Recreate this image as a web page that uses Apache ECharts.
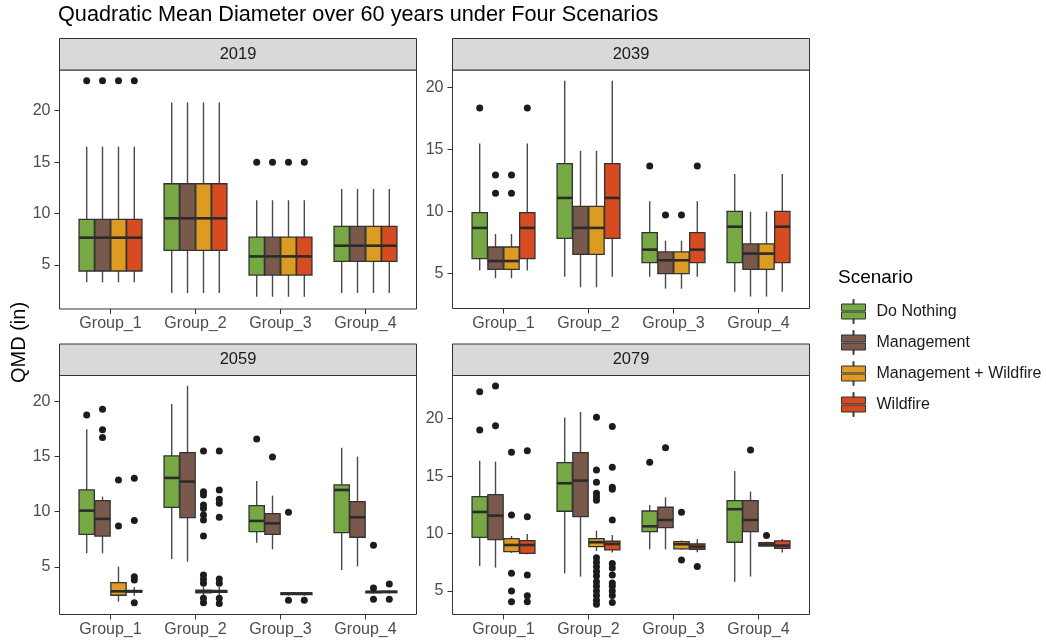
<!DOCTYPE html>
<html><head><meta charset="utf-8">
<script src="https://cdn.jsdelivr.net/npm/echarts@6/dist/echarts.min.js"></script>
<style>html,body{margin:0;padding:0;background:#fff}#chart{width:1046px;height:643px}</style>
</head><body><div id="chart"></div>
<script>
const years = ['2019', '2039', '2059', '2079'];
const groups = ['Group_1', 'Group_2', 'Group_3', 'Group_4'];
const scenarios = ['Do Nothing', 'Management', 'Management + Wildfire', 'Wildfire'];
const yTicks = [5, 10, 15, 20];
const xTicks = [1, 2, 3, 4];

// box stats per group: [lower whisker, Q1, median, Q3, upper whisker]
const box2019DoNothing = [[3.32, 4.42, 7.66, 9.44, 16.5], [2.28, 6.43, 9.54, 12.9, 20.8], [1.92, 4.03, 5.84, 7.72, 11.3], [2.28, 5.36, 6.88, 8.76, 12.39]];
const box2019Management = [[3.32, 4.42, 7.66, 9.44, 16.5], [2.28, 6.43, 9.54, 12.9, 20.8], [1.92, 4.03, 5.84, 7.72, 11.3], [2.28, 5.36, 6.88, 8.76, 12.39]];
const box2019MgmtWildfire = [[3.32, 4.42, 7.66, 9.44, 16.5], [2.28, 6.43, 9.54, 12.9, 20.8], [1.92, 4.03, 5.84, 7.72, 11.3], [2.28, 5.36, 6.88, 8.76, 12.39]];
const box2019Wildfire = [[3.32, 4.42, 7.66, 9.44, 16.5], [2.28, 6.43, 9.54, 12.9, 20.8], [1.92, 4.03, 5.84, 7.72, 11.3], [2.28, 5.36, 6.88, 8.76, 12.39]];

const box2039DoNothing = [[5.22, 6.18, 8.66, 9.89, 15.48], [4.73, 7.82, 11.08, 13.84, 20.54], [4.73, 5.86, 6.91, 8.28, 10.81], [3.52, 5.86, 8.76, 10.0, 13.01]];
const box2039Management = [[4.6, 5.32, 5.99, 7.12, 8.17], [3.87, 6.53, 8.66, 10.4, 14.87], [3.76, 4.97, 6.05, 6.72, 7.63], [3.12, 5.32, 6.59, 7.37, 9.97]];
const box2039MgmtWildfire = [[4.6, 5.32, 5.99, 7.12, 8.17], [3.87, 6.53, 8.66, 10.4, 14.87], [3.76, 4.97, 6.05, 6.72, 7.63], [3.12, 5.32, 6.59, 7.37, 9.97]];
const box2039Wildfire = [[5.22, 6.18, 8.66, 9.89, 15.48], [4.73, 7.82, 11.08, 13.84, 20.54], [4.73, 5.86, 6.91, 8.28, 10.81], [3.52, 5.86, 8.76, 10.0, 13.01]];

const box2059DoNothing = [[6.24, 7.96, 10.1, 11.97, 17.47], [5.72, 10.4, 13.06, 15.05, 19.76], [7.2, 8.2, 9.17, 10.55, 12.79], [4.73, 8.11, 11.97, 12.43, 15.78]];
const box2059Management = [[6.24, 7.8, 9.35, 11.0, 11.37], [5.48, 9.47, 12.73, 15.35, 21.4], [6.6, 7.96, 8.95, 9.83, 11.46], [5.06, 7.69, 9.5, 10.92, 14.99]];
const box2059MgmtWildfire = [[1.86, 2.44, 2.8, 3.58, 5.03], [2.4, 2.65, 2.8, 2.9, 3.2], [2.4, 2.5, 2.6, 2.65, 2.7], [2.6, 2.65, 2.75, 2.8, 2.9]];
const box2059Wildfire = [[2.4, 2.72, 2.8, 2.88, 3.2], [2.45, 2.7, 2.8, 2.88, 3.2], [2.4, 2.5, 2.6, 2.65, 2.7], [2.6, 2.68, 2.75, 2.82, 2.9]];

const box2079DoNothing = [[7.18, 9.67, 11.88, 13.21, 16.34], [6.54, 11.94, 14.38, 16.18, 20.1], [8.63, 10.16, 10.63, 11.96, 12.48], [5.81, 9.24, 12.12, 12.87, 15.44]];
const box2079Management = [[7.03, 9.47, 11.56, 13.38, 16.26], [6.25, 11.47, 14.61, 17.05, 20.59], [8.63, 10.51, 11.18, 12.29, 13.16], [6.25, 10.17, 11.18, 12.87, 13.65]];
const box2079MgmtWildfire = [[8.3, 8.42, 9.0, 9.56, 9.79], [8.48, 8.86, 9.24, 9.56, 10.25], [8.6, 8.66, 9.07, 9.3, 9.4], [8.85, 8.9, 9.05, 9.2, 9.3]];
const box2079Wildfire = [[8.2, 8.28, 9.0, 9.38, 9.97], [8.34, 8.57, 9.09, 9.33, 9.88], [8.37, 8.63, 8.86, 9.09, 9.5], [8.34, 8.72, 8.95, 9.36, 9.53]];

// outliers per group
const out2019DoNothing = [[22.9], [], [14.98], []];
const out2019Management = [[22.9], [], [14.98], []];
const out2019MgmtWildfire = [[22.9], [], [14.98], []];
const out2019Wildfire = [[22.9], [], [14.98], []];

const out2039DoNothing = [[18.33], [], [13.66], []];
const out2039Management = [[12.93, 11.45], [], [9.7], []];
const out2039MgmtWildfire = [[12.93, 11.45], [], [9.7], []];
const out2039Wildfire = [[18.33], [], [13.66], []];

const out2059DoNothing = [[18.76], [], [16.59], []];
const out2059Management = [[19.28, 17.41, 16.71], [], [14.96], []];
const out2059MgmtWildfire = [[12.88, 8.71], [15.5, 11.82, 11.52, 10.6, 10.3, 9.7, 9.26, 7.8, 4.27, 3.9, 3.52, 2.16, 1.77], [9.95, 2.0], [6.97, 3.1, 2.07]];
const out2059Wildfire = [[13.03, 9.2, 4.12, 3.82, 1.77], [15.5, 11.97, 11.13, 10.77, 9.5, 3.91, 3.52, 2.16, 1.7], [2.0], [3.45, 2.07]];

const out2079DoNothing = [[22.35, 19.01], [], [16.2], []];
const out2079Management = [[22.84, 19.39], [], [17.47], [17.27]];
const out2079MgmtWildfire = [[17.08, 11.62, 6.54, 5.0, 4.07], [20.13, 15.54, 14.47, 13.5, 13.2, 12.9, 7.9, 7.5, 7.1, 6.7, 6.3, 5.8, 5.4, 5.0, 4.6, 4.2, 3.85], [11.86, 7.7], [9.82]];
const out2079Wildfire = [[17.2, 11.47, 6.39, 4.59, 4.07], [19.31, 15.77, 14.03, 13.86, 11.18, 7.4, 7.0, 6.4, 5.7, 5.4, 5.0, 4.6, 4.0], [7.12], []];

const boxTables = [
  [box2019DoNothing, box2019Management, box2019MgmtWildfire, box2019Wildfire],
  [box2039DoNothing, box2039Management, box2039MgmtWildfire, box2039Wildfire],
  [box2059DoNothing, box2059Management, box2059MgmtWildfire, box2059Wildfire],
  [box2079DoNothing, box2079Management, box2079MgmtWildfire, box2079Wildfire]
];
const outTables = [
  [out2019DoNothing, out2019Management, out2019MgmtWildfire, out2019Wildfire],
  [out2039DoNothing, out2039Management, out2039MgmtWildfire, out2039Wildfire],
  [out2059DoNothing, out2059Management, out2059MgmtWildfire, out2059Wildfire],
  [out2079DoNothing, out2079Management, out2079MgmtWildfire, out2079Wildfire]
];

// layout / style
const FONT = '"Liberation Sans", Arial, sans-serif';
const colors = ['#76A843', '#7A594D', '#DE9B21', '#D64B1F'];
const dodge = [-0.28, -0.094, 0.094, 0.28];
const BOX_W = 0.18;
const yMins = [0.73, 2.16, 0.7, 2.95];
const yMaxs = [23.95, 21.4, 22.33, 23.76];
const panels = [
  {left: 59.5, top: 70, width: 357, height: 239},
  {left: 452.5, top: 70, width: 357, height: 238.5},
  {left: 59.5, top: 375.5, width: 357, height: 239},
  {left: 452.5, top: 375.5, width: 357, height: 239}
];
const STRIP_H = 31.5;
const KEY_PATH = 'path://M11.5,0H12.5V4.5H11.5Z M0,4.5H24V11.5H0Z M0,12.5H24V19.5H0Z M11.5,19.5H12.5V24H11.5Z';

function renderBox(params, api) {
  const x = api.value(0);
  const yLow = api.coord([x, api.value(1)])[1];
  const yQ1 = api.coord([x, api.value(2)])[1];
  const pm = api.coord([x, api.value(3)]);
  const yQ3 = api.coord([x, api.value(4)])[1];
  const yHigh = api.coord([x, api.value(5)])[1];
  const xc = pm[0], yMed = pm[1];
  const hw = api.size([BOX_W, 0])[0] / 2;
  const color = api.visual('color');
  const wStyle = {stroke: '#4a4a4a', lineWidth: 1.4};
  return {
    type: 'group',
    children: [
      {type: 'line', shape: {x1: xc, y1: yHigh, x2: xc, y2: yQ3}, style: wStyle},
      {type: 'line', shape: {x1: xc, y1: yQ1, x2: xc, y2: yLow}, style: wStyle},
      {type: 'rect', shape: {x: xc - hw, y: yQ3, width: 2 * hw, height: yQ1 - yQ3}, style: {fill: color, stroke: '#333333', lineWidth: 1.3}},
      {type: 'line', shape: {x1: xc - hw, y1: yMed, x2: xc + hw, y2: yMed}, style: {stroke: '#2b2b2b', lineWidth: 2.6}}
    ]
  };
}

const grid = [], xAxis = [], yAxis = [], series = [], graphics = [];
panels.forEach((p, i) => {
  grid.push({left: p.left, top: p.top, width: p.width, height: p.height, show: true, borderColor: '#333333', borderWidth: 1, backgroundColor: '#fff'});
  xAxis.push({
    type: 'value', gridIndex: i, min: 0.4, max: 4.6,
    axisLine: {show: false}, splitLine: {show: false},
    axisTick: {show: true, length: 5, customValues: xTicks, lineStyle: {color: '#333333', width: 1}},
    axisLabel: {customValues: xTicks, formatter: v => groups[Math.round(v) - 1] || '', color: '#4d4d4d', fontSize: 16, margin: 7, fontFamily: FONT}
  });
  yAxis.push({
    type: 'value', gridIndex: i, min: yMins[i], max: yMaxs[i],
    axisLine: {show: false}, splitLine: {show: false},
    axisTick: {show: true, length: 5, customValues: yTicks, lineStyle: {color: '#333333', width: 1}},
    axisLabel: {customValues: yTicks, color: '#4d4d4d', fontSize: 16, margin: 9, fontFamily: FONT}
  });
  scenarios.forEach((name, s) => {
    series.push({
      type: 'custom', name: name, xAxisIndex: i, yAxisIndex: i,
      itemStyle: {color: colors[s]},
      renderItem: renderBox,
      encode: {x: 0, y: [1, 2, 3, 4, 5]},
      data: boxTables[i][s].map((st, g) => [g + 1 + dodge[s]].concat(st)),
      silent: true
    });
  });
  const pts = [];
  scenarios.forEach((name, s) => {
    outTables[i][s].forEach((vals, g) => vals.forEach(v => pts.push([g + 1 + dodge[s], v])));
  });
  series.push({
    type: 'scatter', name: 'outliers' + years[i], xAxisIndex: i, yAxisIndex: i,
    symbolSize: 7, itemStyle: {color: '#1c1c1c', opacity: 1}, data: pts, silent: true, z: 3
  });
  graphics.push({type: 'rect', shape: {x: p.left, y: p.top - STRIP_H, width: p.width, height: STRIP_H}, style: {fill: '#d9d9d9', stroke: '#333333', lineWidth: 1}});
  graphics.push({type: 'text', x: p.left + p.width / 2, y: p.top - STRIP_H / 2, style: {text: years[i], fontSize: 16.5, fill: '#1a1a1a', align: 'center', verticalAlign: 'middle', fontFamily: FONT}});
});

graphics.push({type: 'text', x: 19.5, y: 342.5, rotation: Math.PI / 2, style: {text: 'QMD (in)', fontSize: 20, fill: '#000', align: 'center', verticalAlign: 'middle', fontFamily: FONT}});
graphics.push({type: 'text', x: 838, y: 278, style: {text: 'Scenario', fontSize: 19, fill: '#000', align: 'left', verticalAlign: 'middle', fontFamily: FONT}});

const chart = echarts.init(document.getElementById('chart'), null, {renderer: 'canvas'});
chart.setOption({
  animation: false,
  backgroundColor: '#ffffff',
  title: {text: 'Quadratic Mean Diameter over 60 years under Four Scenarios', left: 58, top: 4, padding: 0, textStyle: {fontSize: 21.7, fontWeight: 'normal', color: '#000', fontFamily: FONT}},
  legend: {
    left: 841, top: 299, orient: 'vertical', padding: 0,
    itemWidth: 24, itemHeight: 24, itemGap: 6,
    data: scenarios.map(n => ({name: n, icon: KEY_PATH})),
    itemStyle: {borderColor: '#333333', borderWidth: 1},
    textStyle: {fontSize: 16, color: '#1a1a1a', padding: [0, 0, 0, 6], fontFamily: FONT},
    selectedMode: false
  },
  grid: grid, xAxis: xAxis, yAxis: yAxis, series: series,
  graphic: graphics
});
</script>
</body></html>
